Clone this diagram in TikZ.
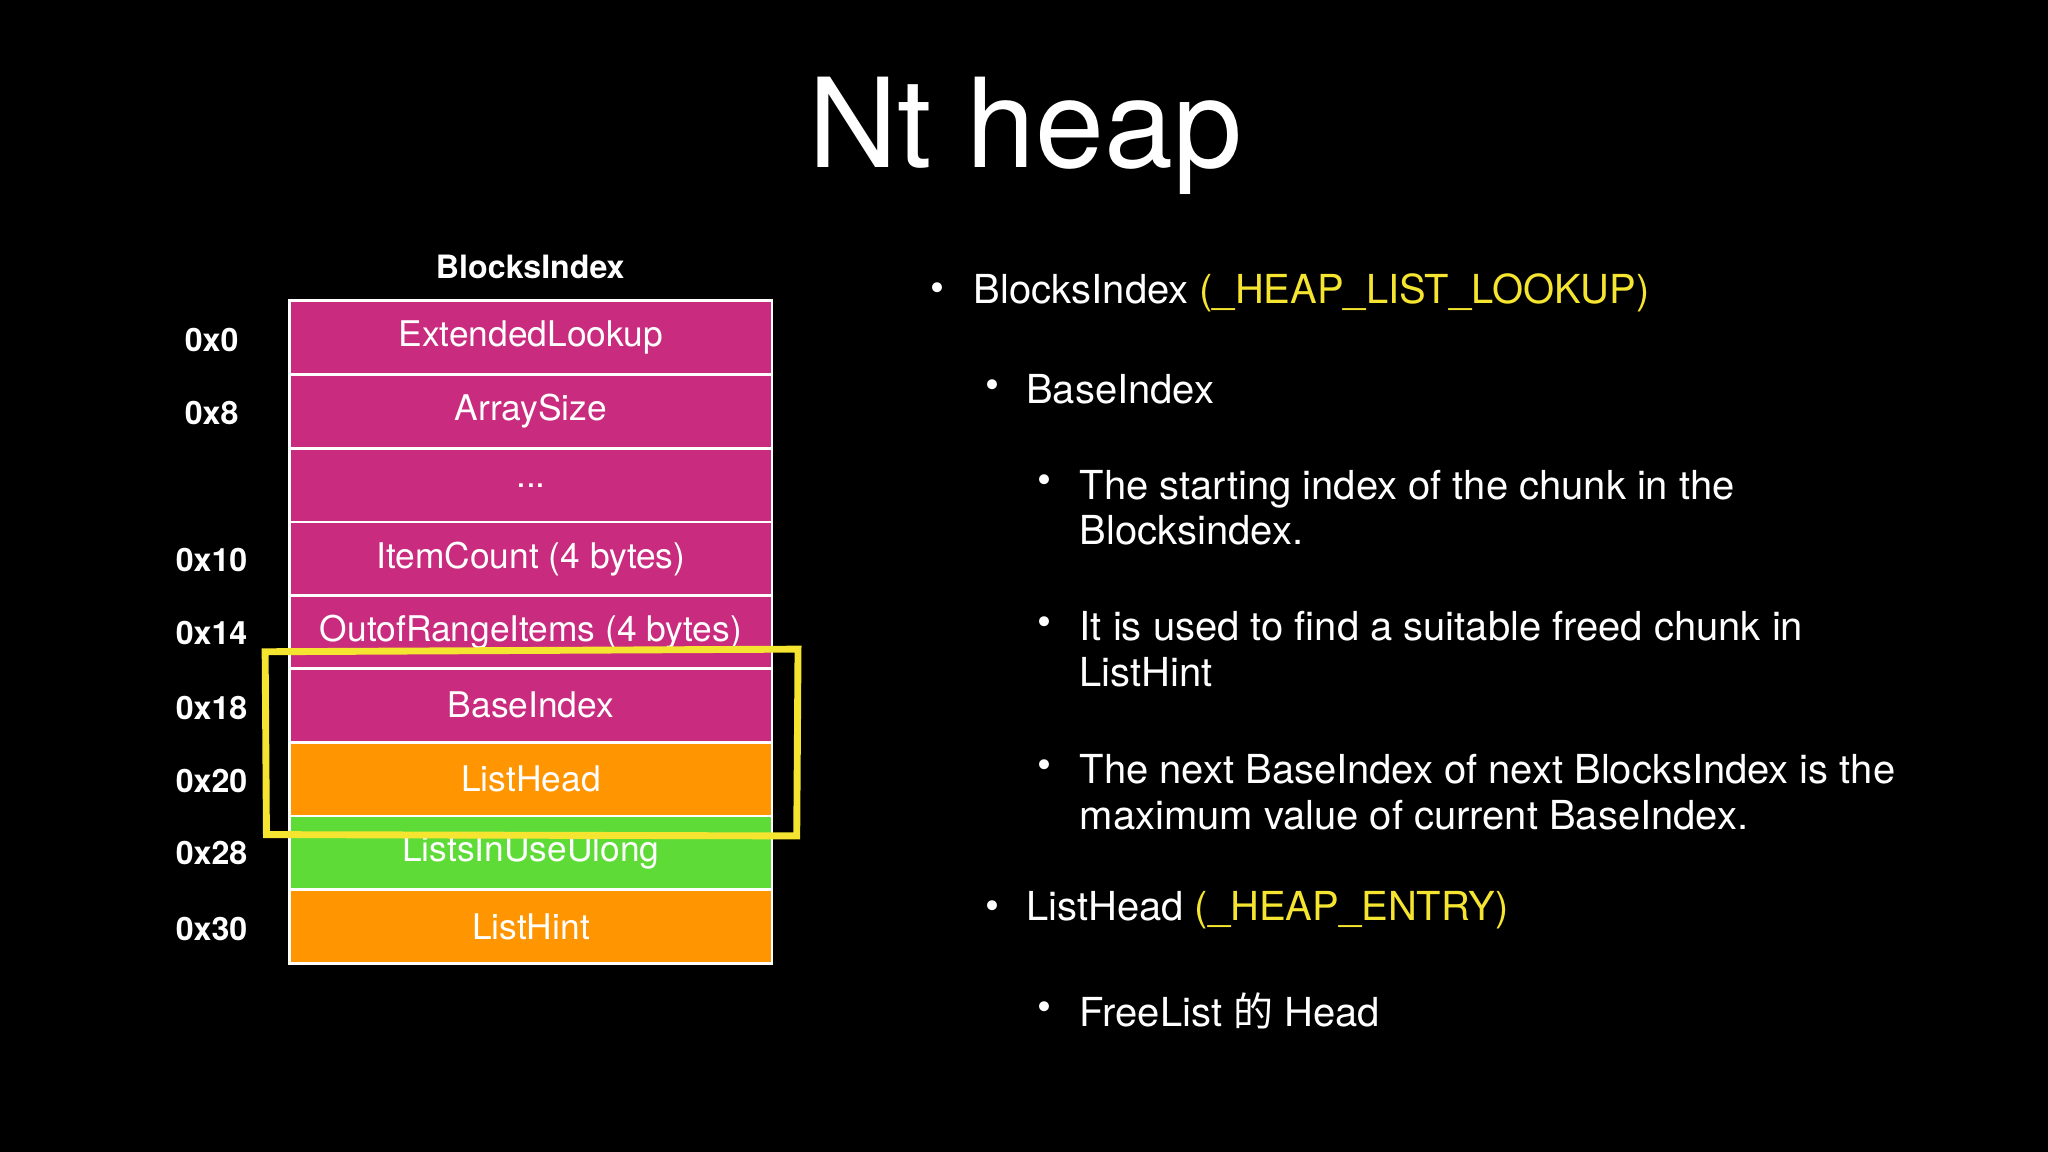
\documentclass[tikz,border=0pt]{standalone}
\usepackage{fontspec}
\setmainfont{TeX Gyre Heros}
\newfontfamily\cjk{Noto Sans CJK SC}
\definecolor{mag}{HTML}{C92C7E}
\definecolor{org}{HTML}{FF9500}
\definecolor{grn}{HTML}{5EDB37}
\definecolor{ylw}{HTML}{F5E430}
\begin{document}
\begin{tikzpicture}[x=0.01cm,y=-0.01cm,
  cell/.style={draw=white,line width=0.6pt,minimum width=3.69cm,minimum height=0.565cm,inner sep=0pt,text=white,font=\fontsize{7.7}{9}\selectfont},
  off/.style={text=white,font=\bfseries\fontsize{7}{8}\selectfont},
  txt/.style={text=white,anchor=west,align=left,inner sep=0pt,font=\fontsize{8.7}{10}\selectfont},
  bul/.style={text=white,inner sep=0pt,font=\fontsize{8.7}{10}\selectfont}]
\fill[black] (0,0) rectangle (1568,882);
\useasboundingbox (0,0) rectangle (1568,882);
\node[text=white,font=\fontsize{27}{30}\selectfont] (title) at (785,104) {Nt heap};
\node[text=white,font=\bfseries\fontsize{7}{8}\selectfont] (hdr) at (406,204) {BlocksIndex};
\node[cell,fill=mag] (c1) at (406.5,258.5) {ExtendedLookup};
\node[cell,fill=mag] (c2) at (406.5,315) {ArraySize};
\node[cell,fill=mag] (c3) at (406.5,371.5) {...};
\node[cell,fill=mag] (c4) at (406.5,428) {ItemCount (4 bytes)};
\node[cell,fill=mag] (c5) at (406.5,484) {OutofRangeItems (4 bytes)};
\node[cell,fill=mag] (c6) at (406.5,540) {BaseIndex};
\node[cell,fill=org] (c7) at (406.5,596.5) {ListHead};
\node[cell,fill=grn] (c8) at (406.5,653) {ListsInUseUlong};
\node[cell,fill=org] (c9) at (406.5,709.5) {ListHint};
\node[off] (o1) at (162,260) {0x0};
\node[off] (o2) at (162,316) {0x8};
\node[off] (o3) at (162,429) {0x10};
\node[off] (o4) at (162,485) {0x14};
\node[off] (o5) at (162,542) {0x18};
\node[off] (o6) at (162,598) {0x20};
\node[off] (o7) at (162,653) {0x28};
\node[off] (o8) at (162,711) {0x30};
\draw[ylw,line width=1.5pt] (203,499) -- (611,497) -- (610,640) -- (204,639) -- cycle;
% bullets
\node[bul] (b1) at (718,224) {•};
\node[txt] (t1) at (745,224) {BlocksIndex \textcolor{ylw}{(\_HEAP\_LIST\_LOOKUP)}};
\node[bul] (b2) at (760,298) {•};
\node[txt] (t2) at (785,298) {BaseIndex};
\node[bul] (b3) at (800,371) {•};
\node[txt,anchor=north west] (t3) at (826,359) {The starting index of the chunk in the\\Blocksindex.};
\node[bul] (b4) at (800,479) {•};
\node[txt,anchor=north west] (t4) at (826,467) {It is used to find a suitable freed chunk in\\ListHint};
\node[bul] (b5) at (800,589) {•};
\node[txt,anchor=north west] (t5) at (826,577) {The next BaseIndex of next BlocksIndex is the\\maximum value of current BaseIndex.};
\node[bul] (b6) at (760,697) {•};
\node[txt] (t6) at (785,697) {ListHead \textcolor{ylw}{(\_HEAP\_ENTRY)}};
\node[bul] (b7) at (800,774) {•};
\node[txt] (t7) at (826,774) {FreeList {\cjk 的} Head};
\end{tikzpicture}
\end{document}
